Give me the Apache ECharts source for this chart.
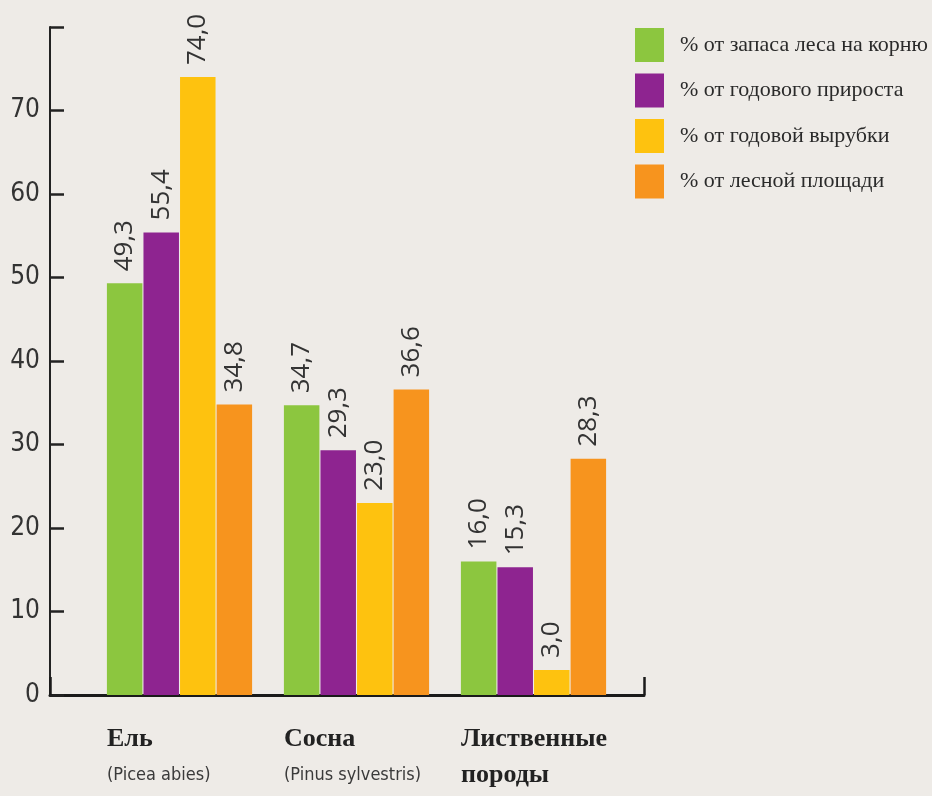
<!DOCTYPE html>
<html>
<head>
<meta charset="utf-8">
<script src="https://cdn.jsdelivr.net/npm/echarts@6/dist/echarts.min.js"></script>
<style>
  html, body { margin: 0; padding: 0; background: #eeebe7; }
  #chart { width: 932px; height: 796px; }
</style>
</head>
<body>
<div id="chart"></div>
<script>
const categories = ['Ель', 'Сосна', 'Лиственные породы'];
const latinNames = ['Picea abies', 'Pinus sylvestris', ''];
const seriesNames = ['% от запаса леса на корню', '% от годового прироста', '% от годовой вырубки', '% от лесной площади'];
const stockShare = [49.3, 34.7, 16.0];
const growthShare = [55.4, 29.3, 15.3];
const fellingShare = [74.0, 23.0, 3.0];
const areaShare = [34.8, 36.6, 28.3];
const seriesColors = ['#8cc63f', '#8e2490', '#fec20f', '#f7941e'];
const yMin = 0, yMax = 80, yStep = 10;

const seriesValues = [stockShare, growthShare, fellingShare, areaShare];

const chart = echarts.init(document.getElementById('chart'));

const narrow = "'Liberation Sans Narrow', 'DejaVu Sans Condensed', sans-serif";
const serif = "'Liberation Serif', 'DejaVu Serif', serif";

const option = {
  backgroundColor: '#eeebe7',
  animation: false,
  legend: {
    orient: 'vertical',
    left: 635,
    top: 28,
    padding: 0,
    itemWidth: 29,
    itemHeight: 34,
    itemGap: 11.5,
    icon: 'rect',
    data: seriesNames,
    textStyle: {
      fontFamily: serif,
      fontSize: 22,
      color: '#2a2a2a',
      padding: [0, 0, 0, 11]
    }
  },
  grid: [
    { left: 50, right: 288, top: 27, bottom: 101 },
    { left: 91, width: 531, top: 27, bottom: 101 }
  ],
  xAxis: [
    {
      type: 'value', gridIndex: 0, min: 0, max: 1, interval: 1,
      axisLine: { show: true, lineStyle: { color: '#1a1a1a', width: 3 } },
      axisTick: { show: true, inside: true, length: 18, lineStyle: { color: '#1a1a1a', width: 2.5 } },
      axisLabel: { show: false },
      splitLine: { show: false }
    },
    {
      type: 'category', gridIndex: 1, data: categories,
      axisLine: { show: false },
      axisTick: { show: false },
      axisLabel: {
        interval: 0,
        margin: 26,
        align: 'center',
        formatter: function (value, idx) {
          const latin = latinNames[idx];
          if (latin) {
            return '{a|' + value + '}\n{b|(' + latin + ')}';
          }
          return value.split(' ').map(function (w) { return '{a|' + w + '}'; }).join('\n');
        },
        rich: {
          a: { fontFamily: serif, fontWeight: 'bold', fontSize: 26, lineHeight: 36, width: 145, align: 'left', color: '#222' },
          b: { fontFamily: narrow, fontSize: 18, lineHeight: 36, width: 145, align: 'left', color: '#3a3a3a' }
        }
      }
    }
  ],
  yAxis: [
    {
      type: 'value', gridIndex: 0, min: yMin, max: yMax, interval: yStep,
      axisLine: { show: true, lineStyle: { color: '#222', width: 2 } },
      axisTick: { show: true, inside: true, length: 14, lineStyle: { color: '#222', width: 2.5 } },
      axisLabel: {
        margin: 10,
        fontFamily: narrow,
        fontSize: 26,
        color: '#333',
        formatter: function (v) { return v === yMax ? '' : String(v); }
      },
      splitLine: { show: false }
    },
    {
      type: 'value', gridIndex: 1, min: yMin, max: yMax, interval: yStep,
      show: false
    }
  ],
  series: seriesNames.map(function (name, i) {
    return {
      name: name,
      type: 'bar',
      xAxisIndex: 1,
      yAxisIndex: 1,
      data: seriesValues[i],
      barWidth: 35.5,
      barGap: '3%',
      itemStyle: { color: seriesColors[i] },
      label: {
        show: true,
        position: 'top',
        rotate: 90,
        align: 'left',
        verticalAlign: 'middle',
        distance: 12,
        fontFamily: "'Open Sans', sans-serif",
        fontSize: 26,
        color: '#333',
        formatter: function (p) { return p.value.toFixed(1).replace('.', ','); }
      }
    };
  })
};

chart.setOption(option);
</script>
</body>
</html>
